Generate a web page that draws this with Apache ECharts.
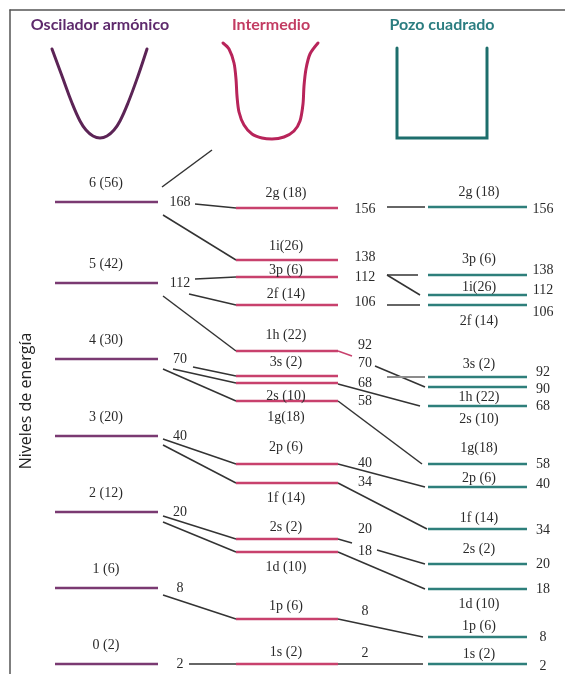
<!DOCTYPE html>
<html><head><meta charset="utf-8">
<script src="https://cdn.jsdelivr.net/npm/echarts@6/dist/echarts.min.js"></script>
<style>html,body{margin:0;padding:0;background:#fff}#c{width:565px;height:674px}</style>
</head><body><div id="c"></div>
<script>
// ---------- DATA (energy in arbitrary diagram units, higher = more energetic) ----------
// Harmonic oscillator shells
const oscLabels = ['0 (2)', '1 (6)', '2 (12)', '3 (20)', '4 (30)', '5 (42)', '6 (56)'];
const oscEnergy = [10, 86, 162, 238, 315, 391, 472];
const oscMagic = ['2', '8', '20', '40', '70', '112', '168'];

// Orbitals (same order for intermediate and square-well columns)
const orbitals = ['1s', '1p', '1d', '2s', '1f', '2p', '1g', '2d', '3s', '1h', '2f', '3p', '1i', '2g'];
const orbitalLabels = ['1s (2)', '1p (6)', '1d (10)', '2s (2)', '1f (14)', '2p (6)', '1g(18)', '2s (10)', '3s (2)', '1h (22)', '2f (14)', '3p (6)', '1i(26)', '2g (18)'];
const midEnergy = [10, 55, 122, 135, 191, 210, 273, 291, 298, 323, 369, 397, 414, 466];
const wellEnergy = [10, 37, 85, 110, 145, 187, 210, 268, 297, 287, 369, 399, 379, 467];

// Closed-shell (magic) numbers and the heights at which they are printed
const midMagic = ['2', '8', '18', '20', '34', '40', '58', '68', '70', '92', '106', '112', '138', '156'];
const midMagicEnergy = [21, 63, 123, 145, 192, 211, 273, 291, 311, 329, 372, 397, 417, 465];
const wellMagic = ['2', '8', '18', '20', '34', '40', '58', '68', '90', '92', '106', '112', '138', '156'];
const wellMagicEnergy = [8, 37, 85, 110, 144, 190, 210, 268, 285, 302, 362, 384, 404, 465];

// Correlations: oscillator shell -> intermediate orbital
const oscToMid = [[6, '2g'], [6, '1i'], [5, '3p'], [5, '2f'], [5, '1h'], [4, '3s'], [4, '2d'], [4, '1g'], [3, '2p'], [3, '1f'], [2, '2s'], [2, '1d'], [1, '1p'], [0, '1s']];

// Potential shapes (x, energy)
const harmonicWell = [[52, 625], [62, 598], [72, 571], [80, 553], [86, 544], [93, 538], [100, 536], [107, 538], [114, 544], [120, 553], [128, 571], [138, 598], [147, 625]];
const intermediateWell = [[223, 631], [229, 625], [234, 611], [236, 595], [237, 578], [239, 562], [244, 549], [252, 540], [262, 536], [272, 535], [284, 537], [294, 543], [300, 553], [303, 570], [304, 588], [306, 605], [310, 620], [318, 631]];
const squareWell = [[397, 626], [397, 536], [487, 536], [487, 626]];

// ---------- LAYOUT ----------
const L = {
  osc: { x0: 55, x1: 158, color: '#7a3a72', labelX: 106 },
  mid: { x0: 236, x1: 338, color: '#c8416d', labelX: 286 },
  well: { x0: 428, x1: 527, color: '#2e7f7b', labelX: 479 },
  oscMagicX: 180, midMagicX: 365, wellMagicX: 543,
  oscLabelDy: -19,
  midLabelDy: [-12, -13, 15, -12, 15, -17, 16, 13, -14, -16, -11, -7, -14, -15],
  wellLabelDy: [-10, -11, 15, -15, -11, -9, -16, 13, -13, 10, 16, -16, -8, -15],
  oscToMidStart: [[195, 2], [163, 13], [195, -4], [189, 11], [163, 13], [193, 8], [173, 10], [163, 10], [163, 3], [163, 9], [163, 4], [163, 10], [163, 7], [189, 0]],
  // per orbital: [startX, start offset px (+ down) from the intermediate level, endX]
  midToWell: [[338, 0, 423], [338, 0, 423], [338, 0, 425], [377, 11, 425], [338, 0, 427], [338, 0, 425], [338, 0, 422], [338, 1, 420], [387, 1, 425], [375, 15, 425], [387, 0, 420], [387, -2, 418], [387, 15, 420], [387, -1, 425]],
  grayOrbital: '3s',
  connector: '#333333', grayConnector: '#8c8c8c',
  serif: '14px "Liberation Serif", "DejaVu Serif", serif',
  title: 'bold 16px Lato, "Open Sans", sans-serif',
  text: '#2a2a2a'
};

// ---------- BUILD ----------
const idx = o => orbitals.indexOf(o);
const oscRows = oscEnergy.map(e => [L.osc.x0, e, L.osc.x1, e]);
const midRows = midEnergy.map(e => [L.mid.x0, e, L.mid.x1, e]);
const wellRows = wellEnergy.map(e => [L.well.x0, e, L.well.x1, e]);

const conRows = [];
const grayRows = [];
oscToMid.forEach(([s, o], i) => {
  const st = L.oscToMidStart[i];
  conRows.push([st[0], oscEnergy[s] - st[1], L.mid.x0, midEnergy[idx(o)]]);
});
orbitals.forEach((o, i) => {
  const m = L.midToWell[i];
  const row = [m[0], midEnergy[i] - m[1], m[2], wellEnergy[i]];
  (o === L.grayOrbital ? grayRows : conRows).push(row);
});
// short ticks toward printed numbers
conRows.push([L.mid.x1, midEnergy[idx('2s')], L.mid.x1 + 14, midEnergy[idx('2s')] - 4]);
conRows.push([L.osc.x1 + 4, oscEnergy[6] + 15, L.osc.x1 + 54, oscEnergy[6] + 52]);
const pinkRows = [[L.mid.x1, midEnergy[idx('1h')], L.mid.x1 + 14, midEnergy[idx('1h')] - 5]];

function segSeries(rows, color, width, z) {
  return {
    type: 'custom', data: rows, z: z || 2, silent: true,
    renderItem: (params, api) => {
      const p0 = api.coord([api.value(0), api.value(1)]);
      const p1 = api.coord([api.value(2), api.value(3)]);
      return { type: 'line', shape: { x1: p0[0], y1: p0[1], x2: p1[0], y2: p1[1] },
        style: { stroke: color, lineWidth: width, lineCap: 'butt' } };
    }
  };
}
function textSeries(rows, texts, font, color) {
  return {
    type: 'custom', data: rows, z: 5, silent: true,
    renderItem: (params, api) => {
      const p = api.coord([api.value(0), api.value(1)]);
      return { type: 'text', x: p[0], y: p[1] + api.value(2),
        style: { text: texts[params.dataIndex], font: font, fill: color,
          align: 'center', verticalAlign: 'middle', textAlign: 'center', textVerticalAlign: 'middle' } };
    }
  };
}

const oscLabelRows = oscEnergy.map(e => [L.osc.labelX, e, L.oscLabelDy]);
const midLabelRows = midEnergy.map((e, i) => [L.mid.labelX, e, L.midLabelDy[i]]);
const wellLabelRows = wellEnergy.map((e, i) => [L.well.labelX, e, L.wellLabelDy[i]]);
const oscMagicRows = oscEnergy.map(e => [L.oscMagicX, e, 0]);
const midMagicRows = midMagicEnergy.map(e => [L.midMagicX, e, 0]);
const wellMagicRows = wellMagicEnergy.map(e => [L.wellMagicX, e, 0]);

const wellLine = (data, color, smooth) => ({
  type: 'line', data: data, smooth: smooth, showSymbol: false, symbol: 'none', silent: true,
  lineStyle: { color: color, width: 3, cap: 'round', join: 'miter' }, z: 3
});

const chart = echarts.init(document.getElementById('c'), null, { renderer: 'canvas' });
chart.setOption({
  animation: false,
  backgroundColor: '#fff',
  grid: { left: 10, right: 0, top: 10, bottom: 0 },
  xAxis: { type: 'value', min: 10, max: 565, position: 'top',
    axisLine: { show: true, onZero: false, lineStyle: { color: '#555', width: 1.5 } },
    axisTick: { show: false }, axisLabel: { show: false }, splitLine: { show: false } },
  yAxis: { type: 'value', min: 0, max: 664,
    axisLine: { show: true, onZero: false, lineStyle: { color: '#555', width: 1.5 } },
    axisTick: { show: false }, axisLabel: { show: false }, splitLine: { show: false } },
  graphic: [
    { type: 'text', x: 100, y: 25, style: { text: 'Oscilador armónico', font: L.title, fill: '#5e2a6c', align: 'center', verticalAlign: 'middle' } },
    { type: 'text', x: 271, y: 25, style: { text: 'Intermedio', font: L.title, fill: '#c23b62', align: 'center', verticalAlign: 'middle' } },
    { type: 'text', x: 442, y: 25, style: { text: 'Pozo cuadrado', font: L.title, fill: '#2b7d80', align: 'center', verticalAlign: 'middle' } },
    { type: 'text', x: 26, y: 401, rotation: Math.PI / 2, style: { text: 'Niveles de energía', font: '16px "Open Sans", Lato, sans-serif', fill: '#222', align: 'center', verticalAlign: 'middle' } }
  ],
  series: [
    wellLine(harmonicWell, '#5c2456', 0.4),
    wellLine(intermediateWell, '#b8245a', 0.3),
    wellLine(squareWell, '#1d6e6c', false),
    segSeries(conRows, L.connector, 1.5, 2),
    segSeries(grayRows, L.grayConnector, 2, 2),
    segSeries(pinkRows, L.mid.color, 1.5, 2),
    segSeries(oscRows, L.osc.color, 2.5, 3),
    segSeries(midRows, L.mid.color, 2.5, 3),
    segSeries(wellRows, L.well.color, 2.5, 3),
    textSeries(oscLabelRows, oscLabels, L.serif, L.text),
    textSeries(midLabelRows, orbitalLabels, L.serif, L.text),
    textSeries(wellLabelRows, orbitalLabels, L.serif, L.text),
    textSeries(oscMagicRows, oscMagic, L.serif, L.text),
    textSeries(midMagicRows, midMagic, L.serif, L.text),
    textSeries(wellMagicRows, wellMagic, L.serif, L.text)
  ]
});
</script></body></html>
